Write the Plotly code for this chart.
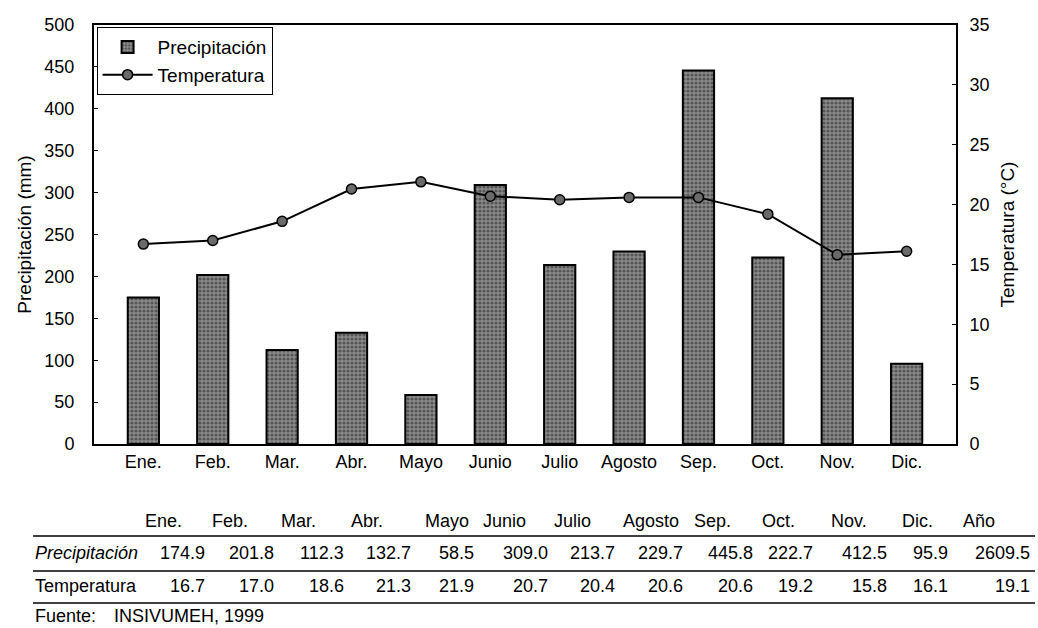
import plotly.graph_objects as go

# ---- data ----
months = ["Ene.", "Feb.", "Mar.", "Abr.", "Mayo", "Junio", "Julio", "Agosto", "Sep.", "Oct.", "Nov.", "Dic."]
precip = [174.9, 201.8, 112.3, 132.7, 58.5, 309.0, 213.7, 229.7, 445.8, 222.7, 412.5, 95.9]
temp = [16.7, 17.0, 18.6, 21.3, 21.9, 20.7, 20.4, 20.6, 20.6, 19.2, 15.8, 16.1]
year_label = "Año"
precip_year = 2609.5
temp_year = 19.1
source_text = "INSIVUMEH, 1999"

# ---- layout geometry (pixels) ----
W, H = 1038, 628
L, R, T, B = 94, 956, 25, 444


def px(x):
    return (x - L) / (R - L)


def py(y):
    return (B - y) / (B - T)


fig = go.Figure()
fig.add_trace(go.Bar(
    x=months, y=precip, name="Precipitación", width=0.45,
    marker=dict(color="#8c8c8c", line=dict(color="black", width=2),
                pattern=dict(shape=".", fgcolor="#1e1e1e", size=4, solidity=0.5)),
    yaxis="y",
))
fig.add_trace(go.Scatter(
    x=months, y=temp, name="Temperatura", mode="lines+markers",
    line=dict(color="black", width=2),
    marker=dict(symbol="circle", size=10, color="#6a6a6a", line=dict(color="black", width=1.5)),
    yaxis="y2",
))

font_main = "Liberation Sans, Arial, sans-serif"
font_tab = "Liberation Sans, Arial, sans-serif"

fig.update_layout(
    width=W, height=H,
    margin=dict(l=L, r=W - R, t=T, b=H - B),
    paper_bgcolor="white", plot_bgcolor="white",
    font=dict(family=font_main, size=18, color="black"),
    showlegend=True,
    legend=dict(x=0.003, y=0.995, xanchor="left", yanchor="top",
                bordercolor="black", borderwidth=1, bgcolor="rgba(255,255,255,0)",
                font=dict(size=19), itemwidth=50, tracegroupgap=2),
    bargap=0.55,
    xaxis=dict(type="category", categoryorder="array", categoryarray=months,
               showline=True, linecolor="black", linewidth=2, mirror=True,
               ticks="", tickfont=dict(size=18), showgrid=False),
    yaxis=dict(range=[0, 500], dtick=50, showline=True, linecolor="black", linewidth=2,
               mirror=False, ticks="inside", ticklen=4, tickcolor="black",
               ticklabelstandoff=14, showgrid=False, zeroline=False,
               tickfont=dict(size=18),
               title=dict(text="Precipitación (mm)", font=dict(size=19), standoff=8)),
    yaxis2=dict(range=[0, 35], dtick=5, overlaying="y", side="right",
                showline=True, linecolor="black", linewidth=2,
                ticks="inside", ticklen=4, tickcolor="black", ticklabelstandoff=8,
                showgrid=False, zeroline=False, tickfont=dict(size=18),
                title=dict(text="Temperatura (°C)", font=dict(size=19), standoff=12)),
)

# ---- table below the chart ----
hdr_x = [163, 230, 298, 367, 447, 504, 572, 651, 712, 778, 849, 917, 979]
val_right = [207, 276, 346, 413, 476, 550, 617, 685, 755, 815, 889, 950, 1032]
hdr_y, prec_y, temp_y, src_y = 521, 553, 586, 616
rule_ys = [536, 571, 603]
tab_size = 18

headers = months + [year_label]
p_vals = precip + [precip_year]
t_vals = temp + [temp_year]

ann = []
for h, x in zip(headers, hdr_x):
    ann.append(dict(x=px(x), y=py(hdr_y), text=h, xanchor="center", yanchor="middle"))
for v, x in zip(p_vals, val_right):
    ann.append(dict(x=px(x), y=py(prec_y), text=f"{v:.1f}", xanchor="right", yanchor="middle"))
for v, x in zip(t_vals, val_right):
    ann.append(dict(x=px(x), y=py(temp_y), text=f"{v:.1f}", xanchor="right", yanchor="middle"))
ann.append(dict(x=px(33), y=py(prec_y), text="<i>Precipitación</i>", xanchor="left", yanchor="middle"))
ann.append(dict(x=px(33), y=py(temp_y), text="Temperatura", xanchor="left", yanchor="middle"))
ann.append(dict(x=px(33), y=py(src_y), text="Fuente:", xanchor="left", yanchor="middle"))
ann.append(dict(x=px(112), y=py(src_y), text=source_text, xanchor="left", yanchor="middle"))
for a in ann:
    a.update(xref="paper", yref="paper", showarrow=False,
             font=dict(family=font_tab, size=tab_size, color="black"))
fig.update_layout(annotations=ann)

shapes = []
for yy in rule_ys:
    shapes.append(dict(type="line", xref="paper", yref="paper",
                       x0=px(33), x1=px(1035), y0=py(yy), y1=py(yy),
                       line=dict(color="black", width=1.5)))
fig.update_layout(shapes=shapes)

fig.write_html("out.html", config={"displayModeBar": False},
               post_script="document.body.style.margin='0';document.body.style.overflow='hidden';")
